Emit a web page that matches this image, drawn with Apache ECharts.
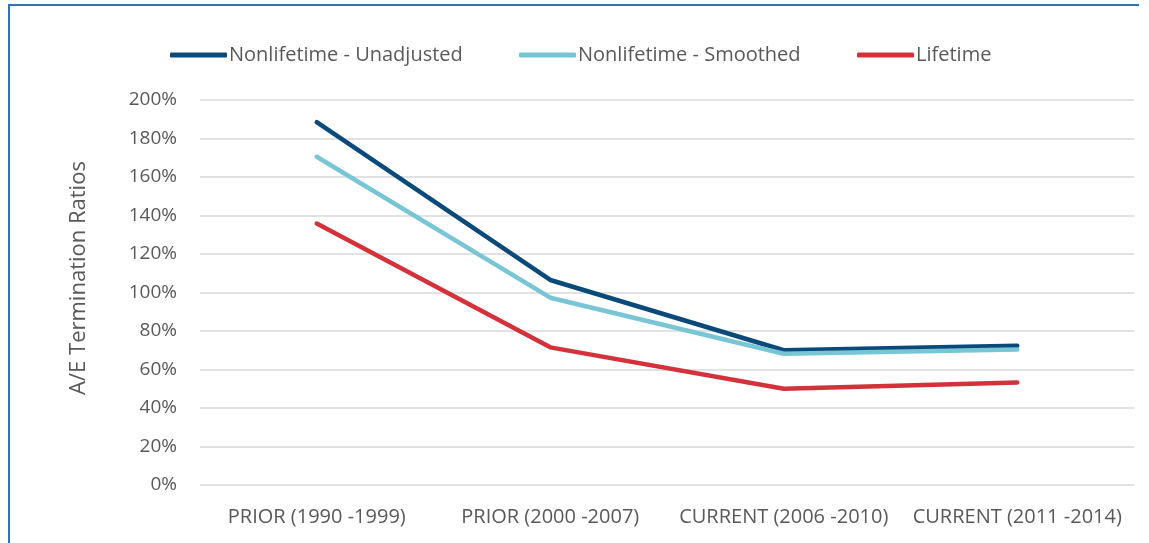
<!DOCTYPE html>
<html><head><meta charset="utf-8">
<script src="https://cdn.jsdelivr.net/npm/echarts@6/dist/echarts.min.js"></script>
<style>html,body{margin:0;padding:0;background:#fff}#c{width:1149px;height:543px}</style>
</head><body><div id="c"></div>
<script>
const categories = ['PRIOR (1990 -1999)', 'PRIOR (2000 -2007)', 'CURRENT (2006 -2010)', 'CURRENT (2011 -2014)'];
const unadjusted = [188.5, 106.5, 70, 72.3];
const smoothed = [170.5, 97.3, 68.2, 70.4];
const lifetime = [135.8, 71.5, 50, 53.3];
const seriesNames = ['Nonlifetime - Unadjusted', 'Nonlifetime - Smoothed', 'Lifetime'];
const yAxisTitle = 'A/E Termination Ratios';
const colors = ['#0a4a7a', '#78c5d6', '#d3323b'];
const yTicks = {min: 0, max: 200, interval: 20};

const font = '"Open Sans", Lato, sans-serif';
const legendLefts = [165, 514, 852];
const chart = echarts.init(document.getElementById('c'));
chart.setOption({
  animation: false,
  color: colors,
  textStyle: {fontFamily: font},
  graphic: [
    {type: 'line', shape: {x1: 8, y1: 5, x2: 1139, y2: 5}, style: {stroke: '#2e75b6', lineWidth: 2}},
    {type: 'line', shape: {x1: 9, y1: 5, x2: 9, y2: 543}, style: {stroke: '#2e75b6', lineWidth: 2}},
    {type: 'text', x: 79, y: 278, rotation: Math.PI / 2,
     style: {text: yAxisTitle, fontSize: 22, fill: '#595959', fontFamily: font, textAlign: 'center', textVerticalAlign: 'middle'}}
  ],
  legend: seriesNames.map((n, i) => ({
    left: legendLefts[i], top: 40,
    icon: 'roundRect', itemWidth: 57, itemHeight: 5,
    textStyle: {fontSize: 20, color: '#595959', fontFamily: font, padding: [0, 0, 0, -3]},
    data: [n]
  })),
  grid: {left: 200, right: 15, top: 100, bottom: 58},
  xAxis: {
    type: 'category', data: categories, boundaryGap: true,
    axisLine: {show: false}, axisTick: {show: false},
    axisLabel: {fontSize: 20, color: '#595959', margin: 22, fontFamily: font, interval: 0}
  },
  yAxis: {
    type: 'value', min: yTicks.min, max: yTicks.max, interval: yTicks.interval,
    axisLabel: {formatter: '{value}%', fontSize: 19, color: '#595959', margin: 23, fontFamily: font},
    splitLine: {lineStyle: {color: '#d9d9d9', width: 1.5}},
    axisLine: {show: false}, axisTick: {show: false}
  },
  series: [
    {name: seriesNames[0], type: 'line', data: unadjusted, showSymbol: false, lineStyle: {width: 4.5, cap: 'round', join: 'round'}, z: 3},
    {name: seriesNames[1], type: 'line', data: smoothed, showSymbol: false, lineStyle: {width: 4.5, cap: 'round', join: 'round'}, z: 4},
    {name: seriesNames[2], type: 'line', data: lifetime, showSymbol: false, lineStyle: {width: 4.5, cap: 'round', join: 'round'}, z: 2}
  ]
});
</script></body></html>
